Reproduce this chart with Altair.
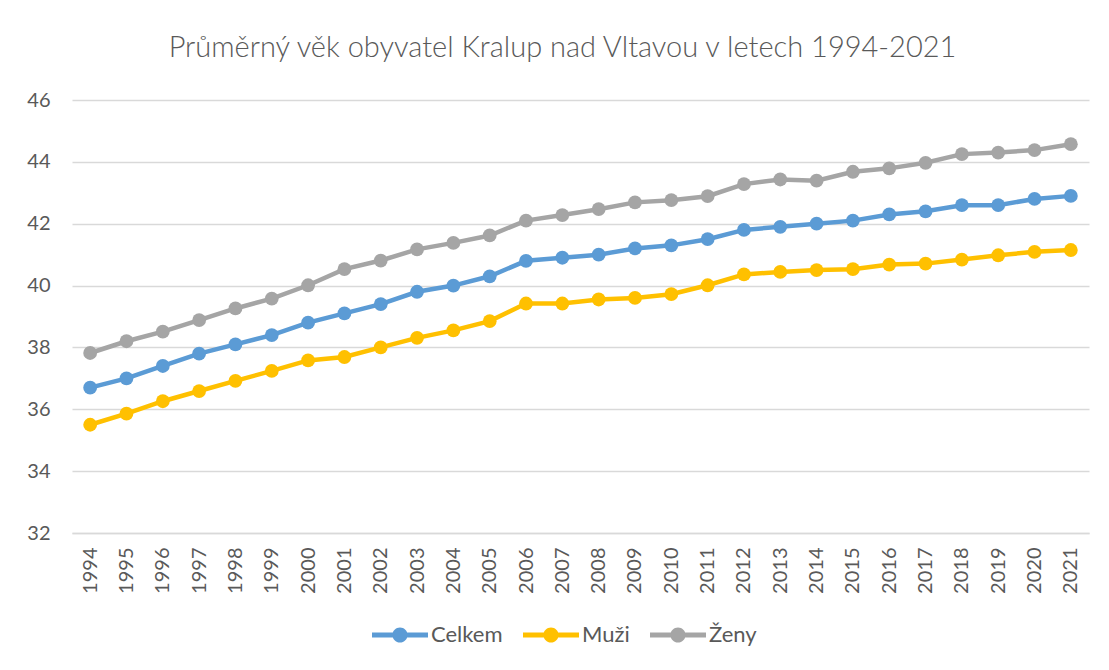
import altair as alt
import pandas as pd

years = list(range(1994, 2022))
celkem = [36.7, 37.0, 37.4, 37.8, 38.1, 38.4, 38.8, 39.1, 39.4, 39.8,
          40.0, 40.3, 40.8, 40.9, 41.0, 41.2, 41.3, 41.5, 41.8, 41.9,
          42.0, 42.1, 42.3, 42.4, 42.6, 42.6, 42.8, 42.9]
muzi = [35.5, 35.86, 36.26, 36.59, 36.92, 37.24, 37.58, 37.69, 38.0, 38.31,
        38.55, 38.85, 39.42, 39.42, 39.55, 39.6, 39.72, 40.01, 40.36, 40.44,
        40.5, 40.53, 40.68, 40.71, 40.84, 40.98, 41.09, 41.15]
zeny = [37.82, 38.2, 38.51, 38.88, 39.26, 39.58, 40.01, 40.53, 40.81, 41.17,
        41.38, 41.62, 42.1, 42.28, 42.47, 42.69, 42.76, 42.89, 43.28, 43.43,
        43.39, 43.68, 43.79, 43.97, 44.25, 44.3, 44.38, 44.57]

series_names = ["Celkem", "Muži", "Ženy"]
series_colors = ["#5B9BD5", "#FFC000", "#A5A5A5"]
y_ticks = [32, 34, 36, 38, 40, 42, 44, 46]

rows = []
for name, vals in zip(series_names, [celkem, muzi, zeny]):
    for i, (yr, v) in enumerate(zip(years, vals)):
        rows.append({"rok": str(yr), "serie": name, "vek": v, "order": i})
df = pd.DataFrame(rows)

TEXT = "#595959"
GRID = "#D9D9D9"

x = alt.X(
    "rok:O",
    sort=[str(y) for y in years],
    scale=alt.Scale(type="point", padding=0.5),
    title=None,
    axis=alt.Axis(
        labelAngle=-90,
        labelPadding=14,
        labelFontSize=20,
        labelColor=TEXT,
        ticks=False,
        grid=False,
        domain=True,
        domainColor=GRID,
        domainWidth=1.3,
    ),
)
y = alt.Y(
    "vek:Q",
    scale=alt.Scale(domain=[32, 46], nice=False, zero=False),
    title=None,
    axis=alt.Axis(
        values=y_ticks,
        labelFontSize=20,
        labelColor=TEXT,
        labelPadding=22,
        ticks=False,
        domain=False,
        grid=True,
        gridColor=GRID,
        gridWidth=1.3,
    ),
)

base = alt.Chart(df).encode(x=x, y=y)

lines = base.mark_line(strokeWidth=4.5).encode(
    stroke=alt.Stroke("serie:N", scale=alt.Scale(domain=series_names, range=series_colors), legend=None),
    detail="serie:N",
    order="order:Q",
)

legend_symbol = (
    "M-1,-0.085H1V0.085H-1Z "
    "M-0.27,0A0.27,0.27 0 1,1 0.27,0A0.27,0.27 0 1,1 -0.27,0Z"
)

points = base.mark_point(filled=True, size=190, opacity=1).encode(
    color=alt.Color(
        "serie:N",
        scale=alt.Scale(domain=series_names, range=series_colors),
        sort=series_names,
        title=None,
        legend=alt.Legend(
            orient="none",
            legendX=300,
            legendY=507,
            direction="horizontal",
            symbolType=legend_symbol,
            symbolSize=3136,
            symbolStrokeWidth=0,
            symbolOpacity=1,
            labelFontSize=22,
            labelColor=TEXT,
            labelOffset=3,
            columnPadding=20,
            padding=0,
        ),
    ),
    shape=alt.value("circle"),
)

chart = (
    alt.layer(lines, points)
    .resolve_scale(color="independent", stroke="independent")
    .properties(
        width=1017,
        height=433,
        title=alt.TitleParams(
            "Průměrný věk obyvatel Kralup nad Vltavou v letech 1994-2021",
            fontSize=29,
            fontWeight=300,
            color=TEXT,
            anchor="middle",
            offset=27,
            dx=-18,
        ),
        autosize=alt.AutoSizeParams(type="none"),
        padding={"left": 64, "top": 92, "right": 10, "bottom": 130},
    )
    .configure(font="Lato")
    .configure_view(stroke=None)
)

chart.save("out.html", embed_options={"renderer": "svg", "actions": False})
